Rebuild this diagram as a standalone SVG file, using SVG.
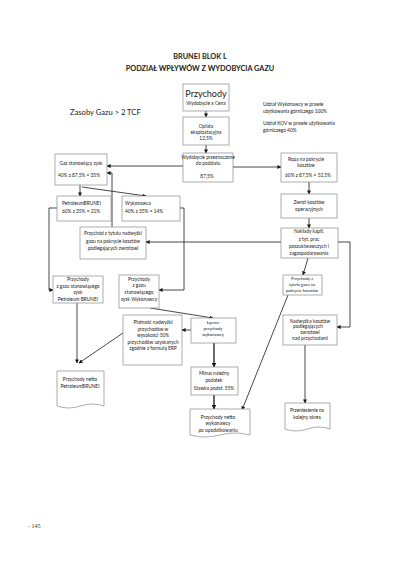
<svg xmlns="http://www.w3.org/2000/svg" width="400" height="566" viewBox="0 0 400 566">
<style>
.box{fill:#fff;stroke:#8a8a8a;stroke-width:0.7}
.t{font-family:Lato,"Liberation Sans",sans-serif;font-size:4.8px;fill:#222;text-anchor:middle}
.s{font-size:4.2px}
.l{text-anchor:start}
.ln{fill:none;stroke:#1a1a1a;stroke-width:0.8}
.th{stroke-width:1.3}
.title{font-family:Lato,"Liberation Sans",sans-serif;font-weight:bold;font-size:7.3px;fill:#222;text-anchor:middle}
</style>
<defs>
<marker id="a" viewBox="0 0 10 10" refX="9" refY="5" markerWidth="4" markerHeight="4" orient="auto" markerUnits="userSpaceOnUse"><path d="M0,0 L10,5 L0,10 z" fill="#1a1a1a"/></marker>
<marker id="b" viewBox="0 0 10 10" refX="9" refY="5" markerWidth="5" markerHeight="5" orient="auto" markerUnits="userSpaceOnUse"><path d="M0,0 L10,5 L0,10 z" fill="#1a1a1a"/></marker>
</defs>
<rect width="400" height="566" fill="#fff"/>
<text class="title" x="200" y="59">BRUNEI BLOK L</text>
<text class="title" x="200" y="71">PODZIAŁ WPŁYWÓW Z WYDOBYCIA GAZU</text>
<text class="t l" x="70" y="115" style="font-size:7.6px">Zasoby Gazu &gt; 2 TCF</text>
<text class="t l" x="263" y="106">Udział Wykonawcy w prawie</text>
<text class="t l" x="263" y="113">użytkowania górniczego 100%</text>
<text class="t l" x="263" y="125">Udział KOV w prawie użytkowania</text>
<text class="t l" x="263" y="132">górniczego 40%</text>

<g id="connectors">
<path class="ln" d="M206,111 V117" marker-end="url(#a)"/>
<path class="ln" d="M206,145 V153" marker-end="url(#a)"/>
<path class="ln" d="M233,167 H281" marker-end="url(#a)"/>
<path class="ln" d="M183,166 H107" marker-end="url(#a)"/>
<path class="ln" d="M112,227 V173 H107" marker-end="url(#a)"/>
<path class="ln" d="M80,185 V196" marker-end="url(#a)"/>
<path class="ln" d="M82,187 L146,196" marker-end="url(#a)"/>
<path class="ln" d="M309,182 V194" marker-end="url(#a)"/>
<path class="ln" d="M309,218 V228" marker-end="url(#a)"/>
<path class="ln" d="M281,242 H146" marker-end="url(#a)"/>
<path class="ln" d="M338,242 H350 V327 H337" marker-end="url(#a)"/>
<path class="ln" d="M308,258 L303,275" marker-end="url(#a)"/>
<path class="ln" d="M57,208 H49 V290 H53" marker-end="url(#a)"/>
<path class="ln" d="M180,208 H184 V290 H159" marker-end="url(#a)"/>
<path class="ln" d="M77,303 V363" marker-end="url(#a)"/>
<path class="ln" d="M123,333 L79,363" marker-end="url(#a)"/>
<path class="ln" d="M150,308 L213,318" marker-end="url(#a)"/>
<path class="ln" d="M191,330 H182" marker-end="url(#a)"/>
<path class="ln th" d="M214,343 V367" marker-end="url(#b)"/>
<path class="ln th" d="M214,395 V409" marker-end="url(#b)"/>
<path class="ln" d="M288,295 L242,410" marker-end="url(#a)"/>
<path class="ln" d="M305,345 V403" marker-end="url(#a)"/>
</g>

<g id="przychody"><rect class="box" x="183" y="84" width="46" height="27"/>
<text class="t" x="206" y="97" style="font-size:9px">Przychody</text>
<text class="t" x="206" y="105">Wydobycie x Cena</text></g>

<g id="oplata"><rect class="box" x="183" y="117" width="46" height="28"/>
<text class="t" x="206" y="128">Opłata</text>
<text class="t" x="206" y="134">eksploatacyjna</text>
<text class="t" x="206" y="140">12,5%</text></g>

<g id="wydobycie"><rect class="box" x="183" y="153" width="50" height="29"/>
<text class="t" x="208" y="159">Wydobycie przeznaczone</text>
<text class="t" x="208" y="165">do podziału</text>
<text class="t" x="207" y="178">87,5%</text></g>

<g id="ropa"><rect class="box" x="281" y="153" width="56" height="29"/>
<text class="t" x="306" y="161">Ropa na pokrycie</text>
<text class="t" x="306" y="167">kosztów</text>
<text class="t" x="308" y="177">60% z 87,5% =  52,5%</text></g>

<g id="zwrot"><rect class="box" x="281" y="194" width="56" height="24"/>
<text class="t" x="309" y="204">Zwrot kosztów</text>
<text class="t" x="309" y="211">operacyjnych</text></g>

<g id="naklady"><rect class="box" x="281" y="228" width="57" height="30"/>
<text class="t" x="309" y="233">Nakłady kapit.</text>
<text class="t" x="309" y="241">z tyt. prac</text>
<text class="t" x="309" y="248">poszukiwawczych i</text>
<text class="t" x="309" y="255">zagospodarowania</text></g>

<g id="przychody-tytulu"><rect class="box" x="283" y="275" width="39" height="20"/>
<text class="t s" x="302" y="280">Przychody z</text>
<text class="t s" x="302" y="286">tytułu gazu na</text>
<text class="t s" x="302" y="292">pokrycie kosztów</text></g>

<g id="nadwyzka"><rect class="box" x="283" y="315" width="54" height="30"/>
<text class="t" x="310" y="323">Nadwyżka kosztów</text>
<text class="t" x="308" y="327.5">podlegających</text>
<text class="t" x="310" y="334">zwrotowi</text>
<text class="t" x="310" y="340">nad przychodami</text></g>

<g id="przeniesienie"><path class="box" d="M285,403 H330 V429 Q318.75,425 307.5,429 T285,429 Z"/>
<text class="t" x="307" y="412">Przeniesienie na</text>
<text class="t" x="307" y="419">kolejny okres</text></g>

<g id="gaz"><rect class="box" x="55" y="154" width="52" height="31"/>
<text class="t" x="81" y="165">Gaz stanowiący zysk</text>
<text class="t" x="79" y="177">40% z 87,5% = 35%</text></g>

<g id="petrobrunei"><rect class="box" x="57" y="196" width="54" height="25"/>
<text class="t l" x="62" y="205">PetroleumBRUNEI</text>
<text class="t l" x="62" y="213">60% z 35% = 21%</text></g>

<g id="wykonawca"><rect class="box" x="122" y="196" width="58" height="25"/>
<text class="t l" x="125" y="205">Wykonawca</text>
<text class="t l" x="125" y="213">40% z 35% = 14%</text></g>

<g id="przychod-nadwyzki"><rect class="box" x="80" y="227" width="66" height="32"/>
<text class="t" x="113" y="235">Przychód z tytułu nadwyżki</text>
<text class="t" x="113" y="243">gazu na pokrycie kosztów</text>
<text class="t" x="113" y="250">podlegających zwrotowi</text></g>

<g id="przychody-pb"><rect class="box" x="53" y="276" width="50" height="27"/>
<text class="t" x="78" y="281">Przychody</text>
<text class="t" x="78" y="288">z gazu stanowiącego</text>
<text class="t" x="78" y="294">zysk</text>
<text class="t" x="78" y="301">Petroleum BRUNEI</text></g>

<g id="przychody-wyk"><rect class="box" x="119" y="275" width="40" height="33"/>
<text class="t" x="139" y="281">Przychody</text>
<text class="t" x="139" y="287">z gazu</text>
<text class="t" x="139" y="294">stanowiącego</text>
<text class="t" x="139" y="301">zysk Wykonawcy</text></g>

<g id="laczne"><rect class="box" x="191" y="318" width="45" height="25"/>
<text class="t s" x="213" y="324">Łączne</text>
<text class="t s" x="213" y="330">przychody</text>
<text class="t s" x="213" y="336">wykonawcy</text></g>

<g id="platnosc"><rect class="box" x="123" y="315" width="59" height="50"/>
<text class="t" x="153" y="324">Płatność nadwyżki</text>
<text class="t" x="153" y="331">przychodów w</text>
<text class="t" x="153" y="337">wysokości 50%</text>
<text class="t" x="153" y="344">przychodów uzyskanych</text>
<text class="t" x="153" y="350">zgodnie z formułą ERP</text></g>

<g id="minus"><rect class="box" x="191" y="367" width="47" height="28"/>
<text class="t" x="214" y="375">Minus należny</text>
<text class="t" x="214" y="382">podatek</text>
<text class="t" x="214" y="390">Stawka podat. 55%</text></g>

<g id="netto-wyk"><path class="box" d="M190,409 H250 V435 Q235,431 220,435 T190,435 Z"/>
<text class="t" x="218" y="419">Przychody netto</text>
<text class="t" x="218" y="425">wykonawcy</text>
<text class="t" x="218" y="432">po opodatkowaniu</text></g>

<g id="netto-pb"><path class="box" d="M57,371 H104 V406 Q92.25,402 80.5,406 T57,406 Z"/>
<text class="t" x="80" y="381">Przychody netto</text>
<text class="t" x="80" y="388">PetroleumBRUNEI</text></g>

<text x="28" y="528" style="font-family:'Liberation Serif',serif;font-size:6px;fill:#333">- 145</text>
</svg>
